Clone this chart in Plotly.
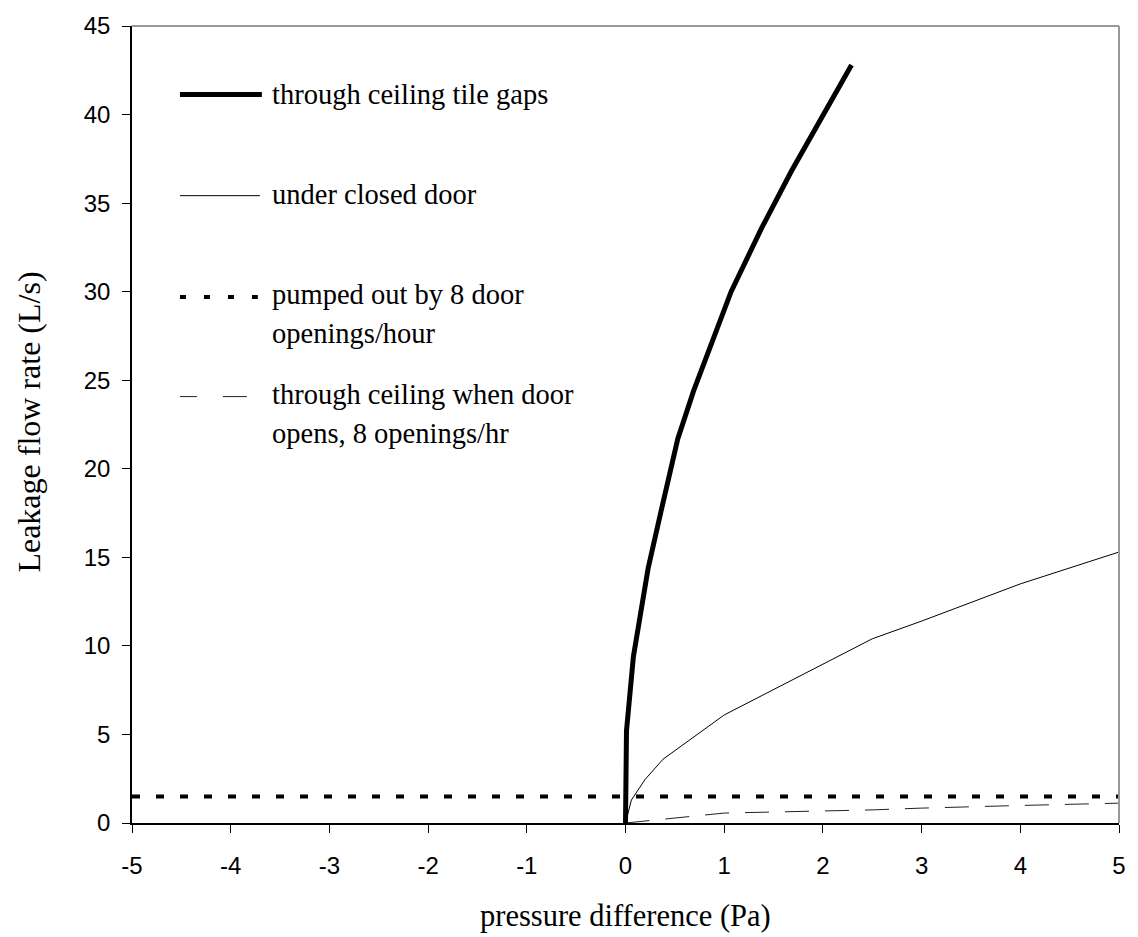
import plotly.graph_objects as go

# ---- data ----
tile_x = [0, 0.01, 0.08, 0.23, 0.36, 0.47, 0.53, 0.69, 0.89, 1.07, 1.38, 1.68, 2.29]
tile_y = [0, 5.2, 9.4, 14.4, 17.6, 20.2, 21.7, 24.4, 27.4, 30.0, 33.6, 36.8, 42.8]

door_x = [0, 0.06, 0.2, 0.38, 1, 2.5, 3, 4, 5]
door_y = [0, 1.3, 2.47, 3.6, 6.1, 10.4, 11.4, 13.5, 15.3]

pump_x = [-5, 5]
pump_y = [1.5, 1.5]

open_x = [0, 1, 2.5, 3, 4, 5]
open_y = [0, 0.56, 0.74, 0.84, 0.99, 1.12]

x_tickvals = [-5, -4, -3, -2, -1, 0, 1, 2, 3, 4, 5]
x_ticktext = ["-5", "-4", "-3", "-2", "-1", "0", "1", "2", "3", "4", "5"]
y_tickvals = [0, 5, 10, 15, 20, 25, 30, 35, 40, 45]
y_ticktext = ["0", "5", "10", "15", "20", "25", "30", "35", "40", "45"]

legend_labels = [
    ["through ceiling tile gaps"],
    ["under closed door"],
    ["pumped out by 8 door", "openings/hour"],
    ["through ceiling when door", "opens, 8 openings/hr"],
]

SERIF = "Times New Roman, Liberation Serif, serif"
SANS = "Arial, Liberation Sans, sans-serif"

fig = go.Figure()
fig.add_trace(go.Scatter(x=pump_x, y=pump_y, mode="lines",
                         line=dict(color="black", width=4, dash="8px,16px"),
                         showlegend=False, hoverinfo="skip"))
fig.add_trace(go.Scatter(x=open_x, y=open_y, mode="lines",
                         line=dict(color="#222222", width=1, dash="24px,16px"),
                         showlegend=False, hoverinfo="skip"))
fig.add_trace(go.Scatter(x=door_x, y=door_y, mode="lines",
                         line=dict(color="black", width=1),
                         showlegend=False, hoverinfo="skip"))
fig.add_trace(go.Scatter(x=tile_x, y=tile_y, mode="lines",
                         line=dict(color="black", width=5),
                         showlegend=False, hoverinfo="skip"))

L, R, T, B = 132, 18, 23, 114
W, H = 1138, 937
PW, PH = W - L - R, H - T - B


def px(xp):
    return (xp - L) / PW


def py(yp):
    return (H - B - yp) / PH


shapes = []
# frame (top and right, gray)
shapes.append(dict(type="line", xref="paper", yref="paper", x0=0, x1=1, y0=1, y1=1,
                   line=dict(color="#999999", width=2)))
shapes.append(dict(type="line", xref="paper", yref="paper", x0=1, x1=1, y0=0, y1=1,
                   line=dict(color="#999999", width=2)))

# legend samples
sample_styles = [
    dict(color="black", width=5),
    dict(color="black", width=1),
    dict(color="black", width=4, dash="6px,18px"),
    dict(color="#222222", width=1, dash="17px,26px,24px,200px"),
]
sample_y = [91.7, 193.3, 295, 395]
sample_x1 = [262, 260, 258, 247]
for st, yy, x1 in zip(sample_styles, sample_y, sample_x1):
    shapes.append(dict(type="line", xref="paper", yref="paper",
                       x0=px(180), x1=px(x1), y0=py(yy), y1=py(yy), line=st))

annotations = []
text_centers = [[91.7], [191.7], [293, 331.7], [393.3, 431.7]]
for lines, centers in zip(legend_labels, text_centers):
    for t, c in zip(lines, centers):
        annotations.append(dict(text=t, xref="paper", yref="paper", x=px(270), y=py(c),
                                xanchor="left", yanchor="middle", showarrow=False,
                                font=dict(family=SERIF, size=28.5, color="black")))

# axis titles
annotations.append(dict(text="pressure difference (Pa)", xref="paper", yref="paper",
                        x=px(626), y=py(916), xanchor="center", yanchor="middle",
                        showarrow=False, font=dict(family=SERIF, size=30.5, color="black")))
annotations.append(dict(text="Leakage flow rate (L/s)", xref="paper", yref="paper",
                        x=px(28), y=py(421), xanchor="center", yanchor="middle",
                        textangle=-90, showarrow=False,
                        font=dict(family=SERIF, size=32, color="black")))

fig.update_layout(
    width=W, height=H,
    margin=dict(l=L, r=R, t=T, b=B, pad=0),
    paper_bgcolor="white", plot_bgcolor="white",
    shapes=shapes, annotations=annotations,
    showlegend=False,
)
fig.update_xaxes(range=[-5, 5], tickvals=x_tickvals, ticktext=x_ticktext,
                 showgrid=False, zeroline=False, showline=True, linecolor="black",
                 linewidth=1.5, ticks="outside", ticklen=8, tickcolor="black", tickwidth=1,
                 tickfont=dict(family=SANS, size=24, color="black"),
                 ticklabelstandoff=12)
fig.update_yaxes(range=[0, 45], tickvals=y_tickvals, ticktext=y_ticktext,
                 showgrid=False, zeroline=False, showline=True, linecolor="black",
                 linewidth=1.5, ticks="outside", ticklen=8, tickcolor="black", tickwidth=1,
                 tickfont=dict(family=SANS, size=24, color="black"),
                 ticklabelstandoff=7)

fig.write_html("out.html")
